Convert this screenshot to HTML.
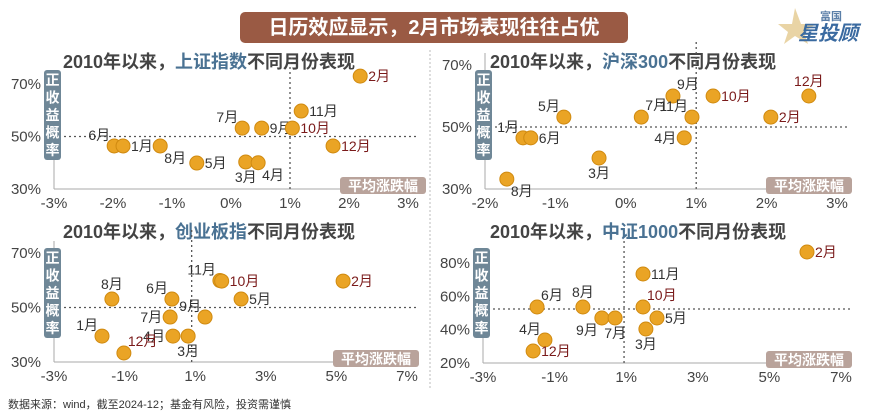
<!DOCTYPE html>
<html><head><meta charset="utf-8"><style>
html,body{margin:0;padding:0;background:#fff;}
body{width:872px;height:414px;overflow:hidden;font-family:"Liberation Sans","Noto Sans CJK SC",sans-serif;}
svg text{font-family:"Liberation Sans","Noto Sans CJK SC",sans-serif;}
</style></head><body>
<svg id="chart" width="872" height="414" viewBox="0 0 872 414" xmlns="http://www.w3.org/2000/svg">
  <g>
    <rect x="240" y="12" width="388" height="31" rx="5" fill="#9a5a44"/>
    <text x="434" y="34" text-anchor="middle" font-size="20" font-weight="bold" fill="#fff">日历效应显示，2月市场表现往往占优</text>
    <text x="820" y="20" font-size="11" font-weight="bold" fill="#5b7fa8">富国</text>
    <polygon points="795,8 801,24 816,24 804,32 808,44 795,36 784,44 788,32 778,24 792,24" fill="#e3c98f" opacity="0.8"/>
    <text x="798" y="40" font-size="20" font-weight="bold" font-style="italic" fill="#3a6aa0">星投顾</text>
  </g>
  <line x1="430" y1="50" x2="430" y2="390" stroke="#bbb" stroke-dasharray="2,2"/>
  <text x="8" y="408" font-size="11" fill="#333">数据来源：wind，截至2024-12；基金有风险，投资需谨慎</text>
</svg>
<script>
// Panel 1: 上证指数
const p1Months=["2月","11月","7月","9月","10月","12月","6月","1月","8月","5月","3月","4月"];
const p1X=[2.19,1.19,0.19,0.52,1.04,1.73,-1.98,-1.83,-1.2,-0.58,0.25,0.46];
const p1Y=[73,59.7,53.2,53.2,53.2,46.4,46.4,46.4,46.4,39.9,40.3,40];
const p1XTicks=["-3%","-2%","-1%","0%","1%","2%","3%"];
const p1XTickVals=[-3,-2,-1,0,1,2,3];
const p1YTicks=["30%","50%","70%"];
const p1YTickVals=[30,50,70];
const p1Lab=["r","r","tl","r","r","r","tl","r","br","r","b","br"];
// Panel 2: 沪深300
const p2Months=["12月","10月","9月","11月","7月","5月","2月","1月","6月","4月","3月","8月"];
const p2X=[2.6,1.24,0.67,0.94,0.22,-0.88,2.06,-1.46,-1.35,0.83,-0.38,-1.69];
const p2Y=[60,60,60,53.2,53.2,53.2,53.2,46.5,46.5,46.5,40,33.2];
const p2XTicks=["-2%","-1%","0%","1%","2%","3%"];
const p2XTickVals=[-2,-1,0,1,2,3];
const p2YTicks=["30%","50%","70%"];
const p2YTickVals=[30,50,70];
const p2Lab=["t","r","tr","tl","tr","tl","r","tl","r","l","b","br"];
// Panel 3: 创业板指
const p3Months=["2月","11月","10月","5月","8月","6月","9月","7月","1月","4月","3月","12月"];
const p3X=[5.19,1.7,1.75,2.3,-1.36,0.34,1.28,0.29,-1.64,0.37,0.8,-1.02];
const p3Y=[59.7,59.9,59.7,53.1,53.1,53.1,46.5,46.5,39.5,39.5,39.5,33.3];
const p3XTicks=["-3%","-1%","1%","3%","5%","7%"];
const p3XTickVals=[-3,-1,1,3,5,7];
const p3YTicks=["30%","50%","70%"];
const p3YTickVals=[30,50,70];
const p3Lab=["r","tl","r","r","t","tl","tl","l","tl","l","b","tr"];
// Panel 4: 中证1000
const p4Months=["2月","11月","10月","5月","3月","8月","6月","9月","7月","4月","12月"];
const p4X=[6.05,1.47,1.47,1.86,1.55,-0.21,-1.49,0.32,0.69,-1.27,-1.6];
const p4Y=[86.6,73.4,53.6,47,40.4,53.6,53.6,47,47,33.8,27.2];
const p4XTicks=["-3%","-1%","1%","3%","5%","7%"];
const p4XTickVals=[-3,-1,1,3,5,7];
const p4YTicks=["20%","40%","60%","80%"];
const p4YTickVals=[20,40,60,80];
const p4Lab=["r","r","tr","r","b","t","tr","bl","b","tl","r"];

const redMonths=["2月","10月","12月"];
const NS="http://www.w3.org/2000/svg";
const svg=document.getElementById("chart");
function mk(tag,attrs,parent){const e=document.createElementNS(NS,tag);for(const k in attrs)e.setAttribute(k,attrs[k]);(parent||svg).appendChild(e);return e;}

function panel(cfg){
  const g=mk("g",{});
  
  
  const sx=v=>cfg.x0+(v-cfg.xmin)/(cfg.xmax-cfg.xmin)*(cfg.x1-cfg.x0);
  const sy=v=>cfg.y0-(v-cfg.ymin)/(cfg.ymax-cfg.ymin)*(cfg.y0-cfg.y1);
  const t=mk("text",{x:cfg.tx,y:cfg.ty,"font-size":18,"font-weight":"bold",fill:"#444"},g);
  
  
  const s1=mk("tspan",{},t);s1.textContent="2010年以来，";
  const s2=mk("tspan",{fill:"#4a7293"},t);s2.textContent=cfg.index;
  const s3=mk("tspan",{},t);s3.textContent="不同月份表现";
  const ax=mk("line",{x1:cfg.x0,y1:cfg.y0,x2:cfg.x1+8,y2:cfg.y0,stroke:"#aaa","stroke-width":1},g);
  
  
  const ay=mk("line",{x1:cfg.x0,y1:cfg.y0,x2:cfg.x0,y2:cfg.y1-12,stroke:"#aaa","stroke-width":1},g);
  
  
  const rv=mk("line",{x1:sx(cfg.refX),y1:cfg.y0,x2:sx(cfg.refX),y2:cfg.y1-25,stroke:"#555","stroke-dasharray":"2,3","stroke-width":1.3},g);
  
  
  const rh=mk("line",{x1:cfg.x0,y1:sy(cfg.refY),x2:cfg.x1+10,y2:sy(cfg.refY),stroke:"#555","stroke-dasharray":"2,3","stroke-width":1.3},g);
  
  
  cfg.xTickVals.forEach((v,i)=>{
    const e=mk("text",{x:sx(v),y:cfg.y0+19,"text-anchor":"middle","font-size":15,fill:"#444"},g);
    e.textContent=cfg.xTicks[i];
    
    
  });
  cfg.yTickVals.forEach((v,i)=>{
    const e=mk("text",{x:cfg.x0-13,y:sy(v)+5,"text-anchor":"end","font-size":15,fill:"#444"},g);
    e.textContent=cfg.yTicks[i];
    
    
  });
  const yb=mk("rect",{x:cfg.x0-10,y:cfg.ybY,width:17,height:90,rx:3,fill:"#6f8797"},g);
  
  
  ["正","收","益","概","率"].forEach((c,i)=>{
    const e=mk("text",{x:cfg.x0-1.5,y:cfg.ybY+15+i*17.5,"text-anchor":"middle","font-size":14,"font-weight":"bold",fill:"#fff"},g);
    e.textContent=c;
    
    
  });
  const xb=mk("rect",{x:cfg.xbX,y:cfg.y0-12,width:86,height:17,rx:3,fill:"#b9a39b"},g);
  
  
  const xt=mk("text",{x:cfg.xbX+43,y:cfg.y0+2,"text-anchor":"middle","font-size":14,"font-weight":"bold",fill:"#fff"},g);
  xt.textContent="平均涨跌幅";
  
  
  const off={r:[8,5,"start"],l:[-8,5,"end"],t:[0,-10,"middle"],b:[0,20,"middle"],tl:[-4,-6,"end"],tr:[4,-7,"start"],br:[4,17,"start"],bl:[-4,17,"end"]};
  cfg.months.forEach((m,i)=>{
    const cx=sx(cfg.xs[i]),cy=sy(cfg.ys[i]);
    const c=mk("circle",{cx:cx,cy:cy,r:7,fill:"#eaa425",stroke:"#d08a10","stroke-width":1},g);
    
    
    const o=off[cfg.lab[i]]||off.r;
    const e=mk("text",{x:cx+o[0],y:cy+o[1],"text-anchor":o[2],"font-size":14,fill:redMonths.includes(m)?"#7a1a1a":"#333"},g);
    e.textContent=m;
    
    
  });
}

panel({name:"panel-shanghai",index:"上证指数",tx:63,ty:68,x0:54,x1:408,xmin:-3,xmax:3,y0:189,y1:84,ymin:30,ymax:70,refX:1,refY:50,
  xTicks:p1XTicks,xTickVals:p1XTickVals,yTicks:p1YTicks,yTickVals:p1YTickVals,months:p1Months,xs:p1X,ys:p1Y,lab:p1Lab,ybY:70,xbX:340});
panel({name:"panel-csi300",index:"沪深300",tx:490,ty:68,x0:485,x1:837,xmin:-2,xmax:3,y0:189,y1:65,ymin:30,ymax:70,refX:1,refY:50,
  xTicks:p2XTicks,xTickVals:p2XTickVals,yTicks:p2YTicks,yTickVals:p2YTickVals,months:p2Months,xs:p2X,ys:p2Y,lab:p2Lab,ybY:70,xbX:766});
panel({name:"panel-chinext",index:"创业板指",tx:63,ty:238,x0:54,x1:407,xmin:-3,xmax:7,y0:362,y1:253,ymin:30,ymax:70,refX:0.9,refY:50,
  xTicks:p3XTicks,xTickVals:p3XTickVals,yTicks:p3YTicks,yTickVals:p3YTickVals,months:p3Months,xs:p3X,ys:p3Y,lab:p3Lab,ybY:248,xbX:333});
panel({name:"panel-csi1000",index:"中证1000",tx:490,ty:238,x0:483,x1:841,xmin:-3,xmax:7,y0:363,y1:263,ymin:20,ymax:80,refX:0.94,refY:52.4,
  xTicks:p4XTicks,xTickVals:p4XTickVals,yTicks:p4YTicks,yTickVals:p4YTickVals,months:p4Months,xs:p4X,ys:p4Y,lab:p4Lab,ybY:248,xbX:766});
</script>
</body></html>
